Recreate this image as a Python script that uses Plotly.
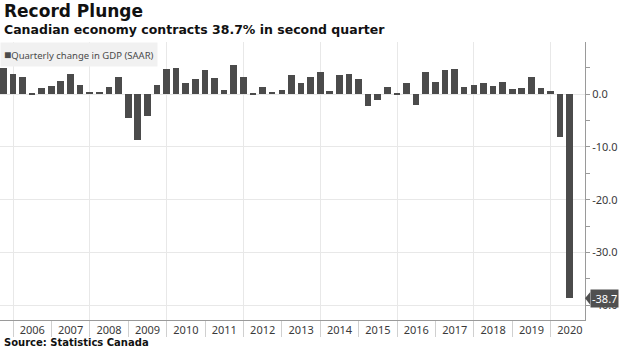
import plotly.graph_objects as go

# Canadian real GDP, quarterly change at a seasonally adjusted annual rate (%)
# Quarters run from 2005 Q3 to 2020 Q2; each bar sits on its quarter-end date.
quarter_ends = [f"{y}-{md}" for y in range(2005, 2021)
                for md in ("03-31", "06-30", "09-30", "12-31")][2:-2]

gdp_change = [
    4.9, 3.9,                 # 2005 Q3-Q4
    3.3, 0.3, 1.1, 1.6,       # 2006
    2.6, 3.9, 1.7, 0.4,       # 2007
    0.4, 1.4, 3.2, -4.5,      # 2008
    -8.7, -4.2, 1.8, 4.7,     # 2009
    4.9, 2.1, 2.9, 4.6,       # 2010
    3.1, 0.8, 5.6, 3.2,       # 2011
    0.3, 1.3, 0.5, 0.8,       # 2012
    3.6, 2.2, 3.2, 4.2,       # 2013
    0.6, 3.6, 3.8, 2.8,       # 2014
    -2.2, -1.1, 1.4, 0.3,     # 2015
    2.2, -2.0, 4.2, 2.3,      # 2016
    4.6, 4.8, 1.4, 1.7,       # 2017
    2.2, 1.6, 2.4, 0.9,       # 2018
    1.1, 3.2, 1.1, 0.6,       # 2019
    -8.2, -38.7,              # 2020 Q1-Q2
]

y_tick_values = [-40, -30, -20, -10, 0, 10]
y_tick_labels = ["-40.0", "-30.0", "-20.0", "-10.0", "0.0", ""]

title = "Record Plunge"
subtitle = "Canadian economy contracts 38.7% in second quarter"
series_name = "Quarterly change in GDP (SAAR)"
source = "Source: Statistics Canada"

x_range = ["2005-08-30", "2020-11-22"]
y_range = [-42.8, 9.9]

BAR = "#4b4b4b"
GRID = "#e8e8e8"
AXIS = "#9a9a9a"
TEXT = "#3a3a3a"
DAY_MS = 86400000

fig = go.Figure()
fig.add_trace(go.Bar(
    x=quarter_ends, y=gdp_change, width=63 * DAY_MS,
    marker=dict(color=BAR, line=dict(width=0)),
    name=series_name, showlegend=False,
))

# overlay axes: two-year vertical grid, and yearly separator ticks
for ax in ("x2", "x3"):
    fig.add_trace(go.Scatter(x=[], y=[], xaxis=ax, showlegend=False))

tick_font = dict(family="Noto Sans", size=11, color=TEXT)

fig.update_layout(
    width=620, height=348,
    margin=dict(l=0, r=35, t=42, b=28),
    paper_bgcolor="white", plot_bgcolor="white",
    bargap=0,
    xaxis=dict(
        type="date", range=x_range,
        dtick="M12", tick0="2006-01-01", ticklabelmode="period",
        tickformat="%Y", ticks="", showgrid=False,
        showline=True, linecolor=AXIS, linewidth=1,
        tickfont=tick_font, zeroline=False,
    ),
    xaxis2=dict(
        type="date", range=x_range, overlaying="x",
        dtick="M24", tick0="2006-01-01",
        showgrid=True, gridcolor=GRID, gridwidth=1,
        showticklabels=False, ticks="", zeroline=False,
    ),
    xaxis3=dict(
        type="date", range=x_range, overlaying="x",
        dtick="M12", tick0="2006-01-01",
        showgrid=False, showticklabels=False,
        ticks="outside", ticklen=16, tickcolor="#d0d0d0", tickwidth=1,
        zeroline=False,
    ),
    yaxis=dict(
        side="right", range=y_range,
        tickmode="array", tickvals=y_tick_values, ticktext=y_tick_labels,
        ticks="outside", ticklen=4, tickcolor=AXIS,
        minor=dict(dtick=5, tick0=0, ticks="outside", ticklen=4,
                   tickcolor=AXIS, showgrid=False),
        showgrid=True, gridcolor=GRID, gridwidth=1,
        showline=True, linecolor=AXIS, linewidth=1,
        zeroline=False, tickfont=tick_font,
    ),
    font=dict(family="Noto Sans", color=TEXT),
)

annotations = [
    dict(text=f"<b>{title}</b>", x=0.003, y=1.11, xref="paper", yref="paper",
         xanchor="left", yanchor="middle", showarrow=False,
         font=dict(family="DejaVu Sans", size=17, color="#111111")),
    dict(text=f"<b>{subtitle}</b>", x=0.003, y=1.045, xref="paper", yref="paper",
         xanchor="left", yanchor="middle", showarrow=False,
         font=dict(family="DejaVu Sans", size=12.5, color="#111111")),
    dict(text=f"<b>{source}</b>", x=0.003, y=-0.08, xref="paper", yref="paper",
         xanchor="left", yanchor="middle", showarrow=False,
         font=dict(family="DejaVu Sans", size=10, color="#111111")),
    dict(text=(f"<span style='color:{BAR};font-size:12px'>■</span>"
               f"{series_name}"),
         x=0, y=1, xref="paper", yref="paper",
         xanchor="left", yanchor="top", showarrow=False,
         bgcolor="#f1f1f1", borderpad=3,
         font=dict(family="Noto Sans", size=9.5, color="#4a4a4a")),
    # value tag for the latest quarter
    dict(text=f"{gdp_change[-1]:.1f}", x=1, y=gdp_change[-1],
         xref="paper", yref="y", xanchor="left", yanchor="middle",
         xshift=5, showarrow=False, bgcolor="#505050", borderpad=1,
         font=dict(family="Noto Sans", size=11, color="white")),
]
fig.update_layout(annotations=annotations)

# pointer on the left side of the value tag
fig.add_shape(type="path", xref="paper", yref="y", layer="above",
              path=f"M 1.0 {gdp_change[-1]} L 1.009 {gdp_change[-1] + 1.2} "
                   f"L 1.009 {gdp_change[-1] - 1.2} Z",
              fillcolor="#505050", line=dict(width=0))

fig.write_html("out.html")
